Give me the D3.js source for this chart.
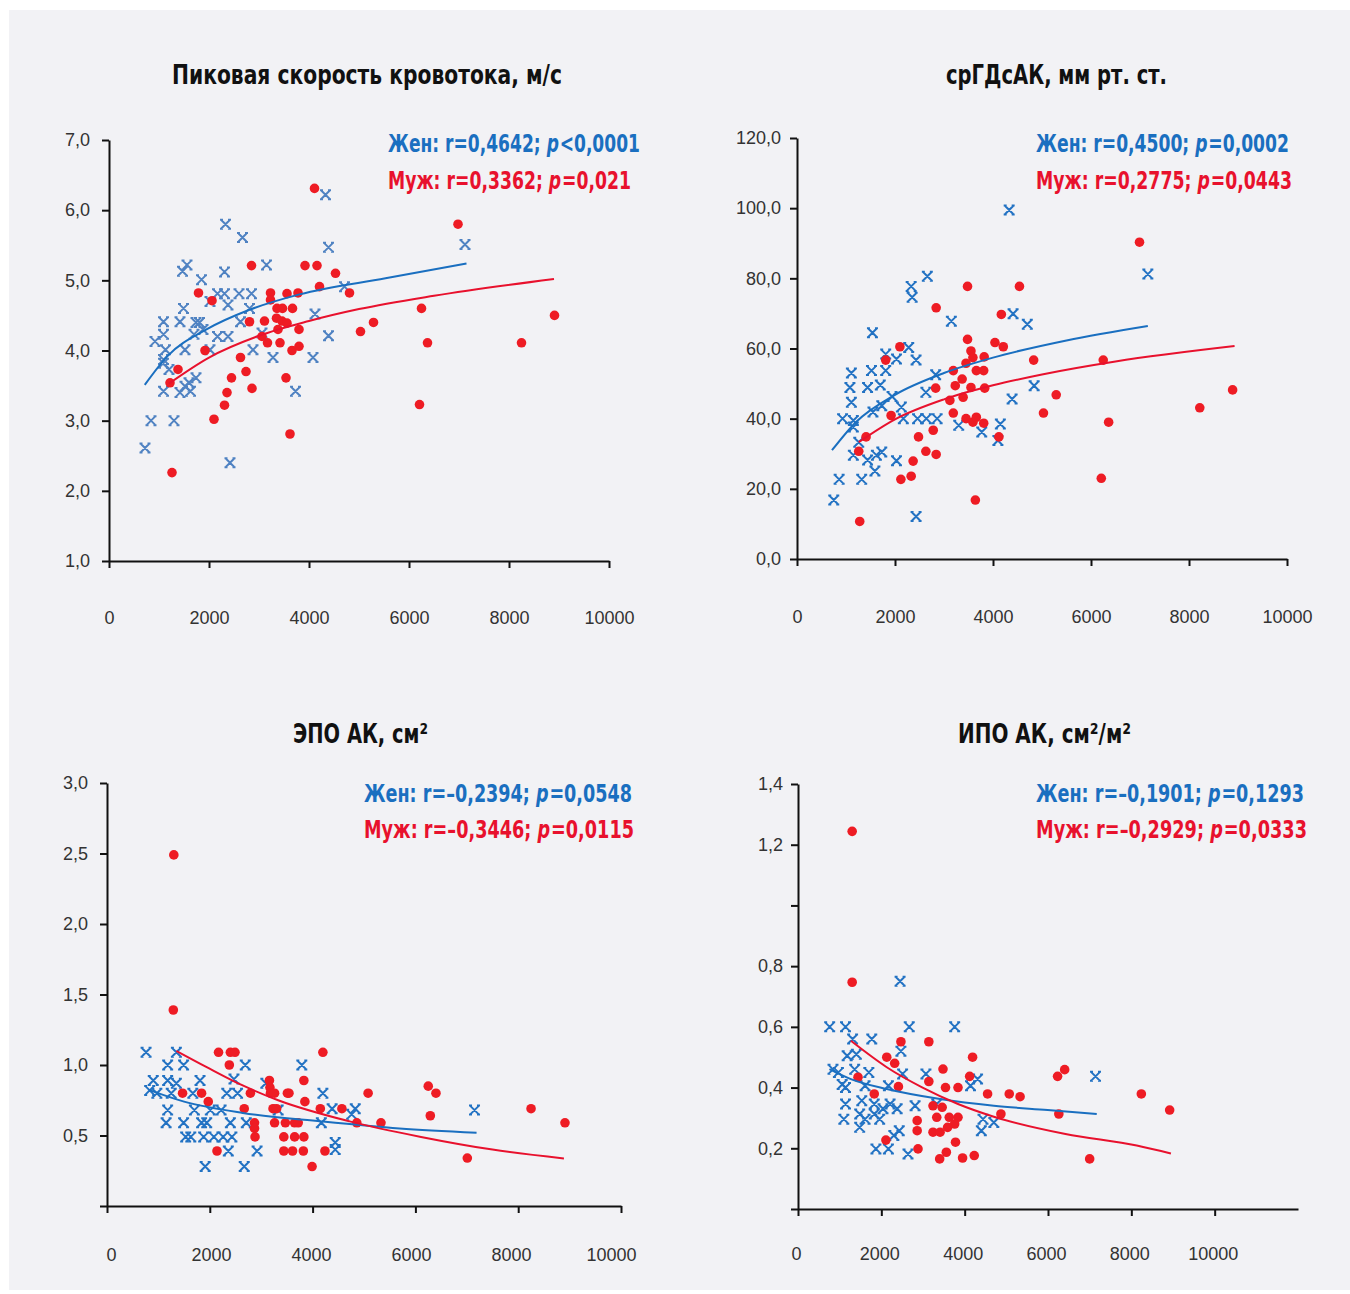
<!DOCTYPE html>
<html><head><meta charset="utf-8">
<script src="https://cdn.jsdelivr.net/npm/d3@7"></script>
<style>
html,body{margin:0;padding:0;background:#fff;}
svg{display:block;}
</style></head><body>
<script>
// ---------- DATA ----------
const titles=["Пиковая скорость кровотока, м/с","срГДсАК, мм рт. ст.","ЭПО АК, см²","ИПО АК, см²/м²"];
const womenStats=[["0,4642","<0,0001"],["0,4500","=0,0002"],["–0,2394","=0,0548"],["–0,1901","=0,1293"]];
const menStats=[["0,3362","=0,021"],["0,2775","=0,0443"],["–0,3446","=0,0115"],["–0,2929","=0,0333"]];

const xTickValues=[0,2000,4000,6000,8000,10000];
const xTickLabels=["0","2000","4000","6000","8000","10000"];

const c1YTicks=[1,2,3,4,5,6,7];
const c1YLabels=["1,0","2,0","3,0","4,0","5,0","6,0","7,0"];
const c2YTicks=[0,20,40,60,80,100,120];
const c2YLabels=["0,0","20,0","40,0","60,0","80,0","100,0","120,0"];
const c3YTicks=[0,0.5,1,1.5,2,2.5,3];
const c3YLabels=["","0,5","1,0","1,5","2,0","2,5","3,0"];
const c4YTicks=[0,0.2,0.4,0.6,0.8,1.0,1.2,1.4];
const c4YLabels=["","0,2","0,4","0,6","0,8","","1,2","1,4"];

const c1Women=[[4330,6.22],[2330,5.80],[2670,5.61],[4390,5.47],[7120,5.51],[1560,5.22],[1470,5.13],[2310,5.12],[3150,5.22],[1850,5.01],[2170,4.81],[2310,4.81],[2600,4.81],[2850,4.81],[2020,4.70],[2380,4.65],[2810,4.60],[1490,4.60],[1090,4.41],[1420,4.41],[1740,4.40],[1810,4.40],[1090,4.23],[920,4.13],[1700,4.23],[1880,4.30],[2170,4.20],[2380,4.20],[2020,4.01],[1520,4.01],[1130,4.01],[1090,3.87],[1090,3.82],[1200,3.73],[2880,4.01],[3280,3.90],[3060,4.25],[2630,4.41],[4390,4.21],[4080,3.90],[4710,4.91],[3730,3.42],[1090,3.42],[1600,3.54],[1740,3.61],[1630,3.42],[1420,3.40],[1520,3.49],[840,3.00],[1300,3.00],[720,2.61],[2420,2.40],[4120,4.52]];
const c1Men=[[4110,6.31],[6980,5.80],[2850,5.21],[3920,5.21],[4160,5.21],[4530,5.10],[4210,4.91],[4810,4.82],[1790,4.82],[2060,4.71],[3230,4.82],[3230,4.72],[3560,4.81],[3780,4.82],[3360,4.60],[3470,4.60],[3670,4.60],[6250,4.60],[2810,4.41],[3110,4.42],[3350,4.46],[3460,4.42],[3560,4.39],[3380,4.30],[3800,4.30],[5290,4.40],[5030,4.27],[3060,4.20],[3170,4.11],[3420,4.11],[1920,4.00],[3660,4.00],[3800,4.06],[6370,4.11],[8250,4.11],[8910,4.50],[2630,3.90],[2740,3.70],[2450,3.61],[3540,3.61],[2860,3.46],[2360,3.40],[2310,3.22],[2100,3.02],[3620,2.81],[6210,3.23],[1260,2.26],[1220,3.54],[1380,3.73]];
const c1WomenTrend=[[715,3.51],[1170,3.92],[1950,4.30],[2810,4.58],[3810,4.80],[5530,5.03],[7150,5.24]];
const c1MenTrend=[[1200,3.53],[2000,3.90],[3000,4.21],[4000,4.42],[5000,4.59],[6500,4.78],[8900,5.02]];

const c2Women=[[4330,99.5],[7160,81.2],[2660,80.6],[2330,77.7],[2350,74.6],[3150,67.8],[4410,69.9],[4700,66.9],[1540,64.5],[2280,60.3],[2030,57.0],[1810,58.4],[2430,56.7],[1810,53.7],[1110,53.0],[1520,53.7],[2830,52.5],[1080,48.9],[1440,48.9],[1700,49.6],[1940,46.3],[2630,47.5],[1110,44.7],[2130,43.3],[1730,43.7],[1550,41.9],[930,40.0],[1150,39.5],[1150,37.6],[2170,40.0],[2460,40.0],[2640,40.0],[2860,40.0],[3300,38.1],[3770,36.2],[4150,38.5],[4840,49.4],[4390,45.6],[1260,33.3],[1150,29.6],[1440,28.2],[1620,29.6],[1730,30.5],[2030,28.0],[1590,25.1],[860,22.7],[1320,22.7],[750,16.8],[2430,12.1],[4100,33.8]];
const c2Men=[[6990,90.3],[3480,77.7],[4540,77.7],[2840,71.6],[4170,69.7],[3480,62.6],[3550,59.3],[3590,57.4],[4040,61.7],[4210,60.5],[2100,60.5],[1810,56.7],[3820,57.6],[3450,55.8],[3660,53.7],[3810,53.7],[4830,56.7],[6250,56.7],[3190,53.7],[3370,51.3],[3230,49.4],[2830,48.7],[3550,48.9],[3830,48.7],[3120,45.2],[3390,46.1],[5290,46.8],[3190,41.6],[1920,40.9],[5030,41.6],[3450,40.0],[3590,39.0],[3660,40.4],[3810,38.7],[2780,36.7],[6360,39.0],[8220,43.1],[8890,48.2],[1410,34.8],[2480,34.8],[4120,34.8],[1260,30.7],[2630,30.7],[2840,29.8],[2370,27.9],[2330,23.6],[2120,22.7],[6210,23.0],[3640,16.8],[1280,10.7]];
const c2WomenTrend=[[714,31.0],[1200,39.0],[2000,46.8],[3000,53.0],[4000,57.4],[5500,62.3],[7160,66.4]];
const c2MenTrend=[[1260,33.3],[2000,39.8],[3000,45.5],[4000,49.5],[5000,52.6],[6500,56.3],[8930,60.7]];

const c3Women=[[760,1.09],[1350,1.09],[1180,1.00],[1490,1.00],[2690,1.00],[3790,1.00],[900,0.89],[1180,0.89],[1350,0.87],[1810,0.89],[2470,0.90],[3090,0.87],[830,0.82],[970,0.80],[1250,0.80],[1670,0.80],[2330,0.80],[2540,0.80],[4200,0.80],[1180,0.68],[1700,0.68],[2010,0.68],[2220,0.68],[3330,0.68],[4380,0.69],[4830,0.69],[7150,0.68],[1150,0.59],[1490,0.59],[1840,0.59],[1940,0.59],[2400,0.59],[2710,0.59],[4170,0.59],[1530,0.49],[1630,0.49],[1880,0.49],[2080,0.49],[2260,0.49],[2430,0.49],[2360,0.39],[2920,0.39],[4440,0.40],[4440,0.45],[1910,0.28],[2670,0.28],[4760,0.65]];
const c3Men=[[1300,2.49],[1290,1.39],[2170,1.09],[2400,1.09],[2490,1.09],[4200,1.09],[2380,1.00],[3830,0.89],[3160,0.89],[3170,0.84],[3180,0.80],[1470,0.80],[1840,0.80],[1970,0.74],[2790,0.80],[3260,0.80],[3510,0.80],[3540,0.80],[5080,0.80],[3850,0.74],[6250,0.85],[6400,0.80],[2670,0.69],[3230,0.69],[3300,0.69],[4150,0.69],[4570,0.69],[8250,0.69],[6290,0.64],[2870,0.59],[2870,0.55],[2880,0.49],[3260,0.59],[3470,0.59],[3650,0.59],[3720,0.59],[4860,0.59],[5330,0.59],[8910,0.59],[3440,0.49],[3650,0.49],[3830,0.49],[2140,0.39],[3440,0.39],[3610,0.39],[3820,0.39],[4240,0.39],[3990,0.28],[7010,0.34]];
const c3WomenTrend=[[800,0.825],[1500,0.74],[2640,0.66],[4170,0.60],[5690,0.55],[7190,0.52]];
const c3MenTrend=[[1350,1.10],[1940,0.985],[2640,0.855],[3330,0.75],[4720,0.60],[6110,0.49],[7500,0.40],[8890,0.337]];

const c4Women=[[2450,0.75],[760,0.60],[1140,0.60],[2670,0.60],[3760,0.60],[1310,0.56],[1770,0.56],[2470,0.52],[1180,0.505],[1400,0.51],[840,0.46],[970,0.45],[1360,0.46],[1700,0.45],[2510,0.445],[3070,0.445],[7140,0.437],[1060,0.41],[1140,0.40],[1610,0.406],[2170,0.406],[4140,0.406],[4310,0.428],[1140,0.346],[1530,0.357],[1830,0.346],[2040,0.33],[2210,0.346],[2380,0.33],[2810,0.34],[1100,0.296],[1480,0.313],[1610,0.296],[1830,0.313],[1960,0.296],[1480,0.269],[2430,0.258],[2300,0.242],[4440,0.296],[4700,0.285],[4400,0.258],[1870,0.198],[2170,0.198],[2640,0.181],[3330,0.346]];
const c4Men=[[1300,1.244],[1300,0.747],[2470,0.551],[3140,0.551],[2130,0.50],[2320,0.48],[4190,0.50],[3480,0.461],[1440,0.434],[6230,0.437],[6400,0.459],[4120,0.437],[2410,0.403],[3140,0.42],[3540,0.40],[3840,0.40],[1830,0.379],[4550,0.379],[5070,0.379],[5330,0.37],[8240,0.379],[8920,0.326],[6260,0.313],[4870,0.313],[3240,0.34],[3460,0.335],[3330,0.302],[3630,0.302],[3840,0.302],[3760,0.28],[2860,0.291],[2860,0.258],[3240,0.253],[3410,0.253],[3590,0.269],[2110,0.227],[2880,0.198],[3780,0.22],[3560,0.187],[3400,0.165],[3950,0.168],[4230,0.176],[7000,0.165]];
const c4WomenTrend=[[755,0.461],[1270,0.428],[2130,0.395],[3410,0.362],[4700,0.34],[5990,0.326],[7170,0.313]];
const c4MenTrend=[[1270,0.554],[2130,0.467],[2990,0.40],[3840,0.346],[4700,0.304],[6420,0.247],[8130,0.209],[8950,0.183]];

// ---------- LAYOUT ----------
const layouts=[
 {xd:[0,10000],xr:[109,609],lr:[109,609],yd:[1,7],yr:[561,140],xPad:43,yPad:12,tx:172,ty:84,tw:390,ax:388,ay1:152,ay2:189,aw1:252,aw2:243,wc:"#4f82c2"},
 {xd:[0,10000],xr:[797,1287],lr:[797,1287],yd:[0,120],yr:[559,138],xPad:44,yPad:9,tx:946,ty:84,tw:221,ax:1036,ay1:152,ay2:189,aw1:253,aw2:256,wc:"#2272c3"},
 {xd:[0,10000],xr:[107,621],lr:[111,611],yd:[0,3],yr:[1206,783],xPad:35,yPad:12,tx:293,ty:743,tw:135,ax:364,ay1:802,ay2:838,aw1:268,aw2:270,wc:"#2272c3"},
 {xd:[0,12000],xr:[798,1298],lr:[796,1296],yd:[0,1.4],yr:[1209,784],xPad:31,yPad:8,tx:958,ty:743,tw:173,ax:1036,ay1:802,ay2:838,aw1:268,aw2:271,wc:"#2272c3"}
];
const panels=[
 {women:c1Women,men:c1Men,wt:c1WomenTrend,mt:c1MenTrend,yt:c1YTicks,yl:c1YLabels},
 {women:c2Women,men:c2Men,wt:c2WomenTrend,mt:c2MenTrend,yt:c2YTicks,yl:c2YLabels},
 {women:c3Women,men:c3Men,wt:c3WomenTrend,mt:c3MenTrend,yt:c3YTicks,yl:c3YLabels},
 {women:c4Women,men:c4Men,wt:c4WomenTrend,mt:c4MenTrend,yt:c4YTicks,yl:c4YLabels}
];

const BLUE="#1a6fc0", RED="#e8112d", DOT="#ee1c24";
const W=1350,H=1294;
const svg=d3.select("body").append("svg").attr("width",W).attr("height",H);
svg.append("rect").attr("x",9).attr("y",10).attr("width",W-9).attr("height",1280).attr("fill","#f2f2f5");

const condensed='"Liberation Sans Narrow","DejaVu Sans Condensed","Roboto",sans-serif';
// X-shaped marker with small serifs at arm ends
const starPath="M-4,-4L4,4M-4,4L4,-4M-5.5,-4.5L-2.5,-4.5M2.5,-4.5L5.5,-4.5M-5.5,4.5L-2.5,4.5M2.5,4.5L5.5,4.5";

panels.forEach((p,i)=>{
  const L=layouts[i];
  const x=d3.scaleLinear().domain(L.xd).range(L.xr);
  const xl=d3.scaleLinear().domain(L.xd).range(L.lr);
  const y=d3.scaleLinear().domain(L.yd).range(L.yr);
  const g=svg.append("g");

  // axes
  const xa=g.append("g").attr("transform",`translate(0,${L.yr[0]})`)
    .call(d3.axisBottom(x).tickValues(xTickValues).tickFormat((d,k)=>xTickLabels[k]).tickSize(7).tickSizeOuter(0).tickPadding(L.xPad));
  xa.selectAll(".tick text").attr("dx",d=>xl(d)-x(d));
  const ya=g.append("g").attr("transform",`translate(${L.xr[0]},0)`)
    .call(d3.axisLeft(y).tickValues(p.yt).tickFormat((d,k)=>p.yl[k]).tickSize(7).tickSizeOuter(0).tickPadding(L.yPad));
  [xa,ya].forEach(a=>{
    a.selectAll("path,line").attr("stroke","#111").attr("stroke-width",2);
    a.selectAll("text").attr("fill","#333").attr("font-family",'"Liberation Sans",Arial,sans-serif').attr("font-size",18);
  });

  // women markers
  g.append("g").selectAll("path").data(p.women).join("path")
    .attr("d",starPath).attr("transform",d=>`translate(${x(d[0])},${y(d[1])})`)
    .attr("fill","none").attr("stroke",L.wc).attr("stroke-width",2);
  // men markers
  g.append("g").selectAll("circle").data(p.men).join("circle")
    .attr("cx",d=>x(d[0])).attr("cy",d=>y(d[1])).attr("r",4.8).attr("fill",DOT);

  // trends
  const line=d3.line().x(d=>x(d[0])).y(d=>y(d[1])).curve(d3.curveMonotoneX);
  g.append("path").datum(p.wt).attr("d",line).attr("fill","none").attr("stroke",BLUE).attr("stroke-width",2);
  g.append("path").datum(p.mt).attr("d",line).attr("fill","none").attr("stroke",RED).attr("stroke-width",2);

  // title
  g.append("text").attr("x",L.tx).attr("y",L.ty).text(titles[i])
    .attr("font-family",condensed).attr("font-weight","bold").attr("font-size",27).attr("fill","#111")
    .attr("textLength",L.tw).attr("lengthAdjust","spacingAndGlyphs");

  // stats: three separate text pieces in a horizontally scaled group
  const stat=(lbl,s,yy,w,col)=>{
    const sg=g.append("g");
    const parts=[[lbl+": r="+s[0]+";\u00a0","normal"],["p","italic"],[s[1],"normal"]];
    let cx=0;
    parts.forEach(([txt,st])=>{
      const t=sg.append("text").attr("x",cx).attr("y",0).attr("fill",col)
        .attr("font-family",condensed).attr("font-weight","bold").attr("font-size",25)
        .attr("font-style",st).style("white-space","pre").text(txt);
      cx+=t.node().getComputedTextLength()+(st==="italic"?1:0);
    });
    const k=w/cx;
    sg.attr("transform",`translate(${L.ax},${yy}) scale(${k},1)`);
  };
  stat("Жен",womenStats[i],L.ay1,L.aw1,BLUE);
  stat("Муж",menStats[i],L.ay2,L.aw2,RED);
});
</script>
</body></html>
